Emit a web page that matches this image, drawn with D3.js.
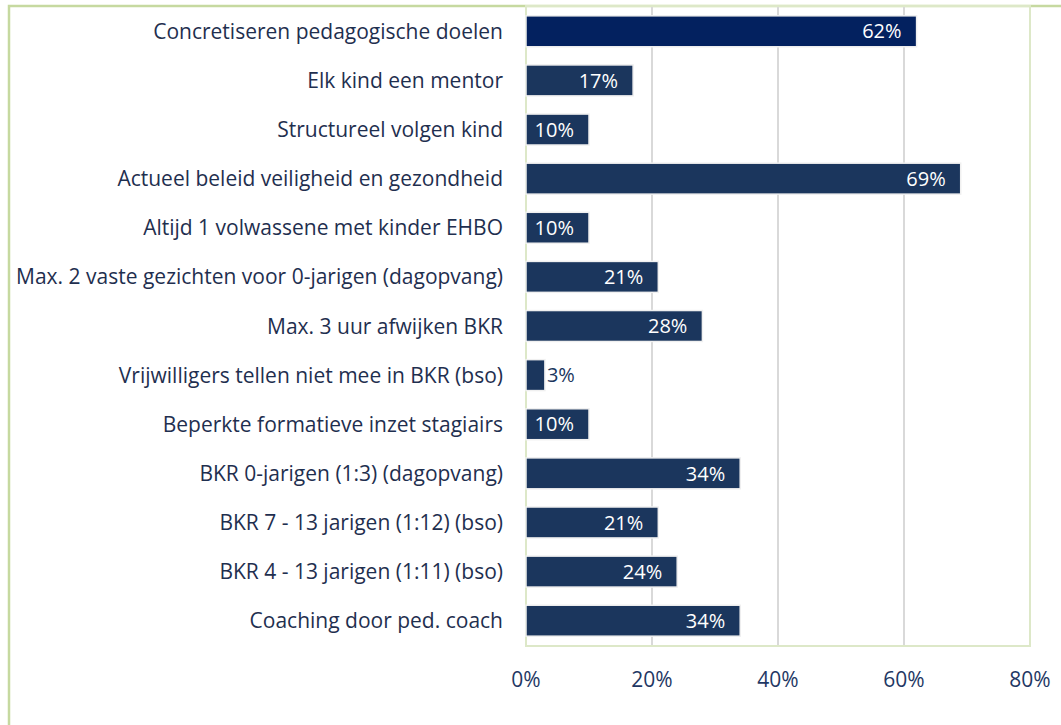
<!DOCTYPE html>
<html lang="en">
<meta charset="UTF-8">
<head>
<title>Maatregelen</title>
<script src="https://d3js.org/d3.v7.min.js"></script>
<style>
  body { margin:0; background:#fff; }
  text { font-family: "Open Sans", Lato, sans-serif; }
</style>
</head>
<body>
<div id="chart"></div>
<script>
// data
const categories = [
  "Concretiseren pedagogische doelen",
  "Elk kind een mentor",
  "Structureel volgen kind",
  "Actueel beleid veiligheid en gezondheid",
  "Altijd 1 volwassene met kinder EHBO",
  "Max. 2 vaste gezichten voor 0-jarigen (dagopvang)",
  "Max. 3 uur afwijken BKR",
  "Vrijwilligers tellen niet mee in BKR (bso)",
  "Beperkte formatieve inzet stagiairs",
  "BKR 0-jarigen (1:3) (dagopvang)",
  "BKR 7 - 13 jarigen (1:12) (bso)",
  "BKR 4 - 13 jarigen (1:11) (bso)",
  "Coaching door ped. coach"
];
const values = [62, 17, 10, 69, 10, 21, 28, 3, 10, 34, 21, 24, 34];
const ticks = [0, 20, 40, 60, 80];

const W = 1061, H = 725;
const plot = { left: 526, right: 1030, top: 6, bottom: 646 };

const svg = d3.select("#chart").append("svg")
  .attr("width", W).attr("height", H);

// outer border
svg.append("rect")
  .attr("x", 9).attr("y", 6)
  .attr("width", W + 20).attr("height", H + 20)
  .attr("fill", "none").attr("stroke", "#c6d9a0").attr("stroke-width", 2.5);

const x = d3.scaleLinear().domain([0, 80]).range([plot.left, plot.right]);
const y = d3.scaleBand().domain(categories).range([plot.top, plot.bottom]).paddingInner(0.37).paddingOuter(0.2);

// gridlines
svg.selectAll(".grid").data(ticks.slice(1, -1)).join("line")
  .attr("x1", d => x(d)).attr("x2", d => x(d))
  .attr("y1", plot.top).attr("y2", plot.bottom)
  .attr("stroke", "#d9d9d9").attr("stroke-width", 2);

// plot area border
svg.append("rect")
  .attr("x", plot.left).attr("y", plot.top)
  .attr("width", plot.right - plot.left).attr("height", plot.bottom - plot.top)
  .attr("fill", "none").attr("stroke", "#dde8c8").attr("stroke-width", 2);

// bars
svg.selectAll(".bar").data(values).join("rect")
  .attr("x", x(0))
  .attr("y", (d, i) => y(categories[i]))
  .attr("width", d => x(d) - x(0))
  .attr("height", y.bandwidth())
  .attr("fill", (d, i) => i === 0 ? "#03215f" : "#1b365d")
  .attr("stroke", "#f0f0f0").attr("stroke-width", 1.5);

// value labels
svg.selectAll(".val").data(values).join("text")
  .attr("x", d => d < 5 ? x(d) + 2 : x(d) - 15)
  .attr("y", (d, i) => y(categories[i]) + y.bandwidth() / 2)
  .attr("dy", "0.36em")
  .attr("text-anchor", d => d < 5 ? "start" : "end")
  .attr("fill", d => d < 5 ? "#1b365d" : "#ffffff")
  .style("font-size", "20px")
  .text(d => d + "%");

// category labels
svg.selectAll(".cat").data(categories).join("text")
  .attr("x", 503)
  .attr("y", d => y(d) + y.bandwidth() / 2)
  .attr("dy", "0.36em")
  .attr("text-anchor", "end")
  .attr("fill", "#1f2f4f")
  .style("font-size", "21px")
  .text(d => d);

// x tick labels
svg.selectAll(".tick").data(ticks).join("text")
  .attr("x", d => x(d))
  .attr("y", 679)
  .attr("dy", "0.36em")
  .attr("text-anchor", "middle")
  .attr("fill", "#1f3864")
  .style("font-size", "21px")
  .text(d => d + "%");
</script>
</body>
</html>
